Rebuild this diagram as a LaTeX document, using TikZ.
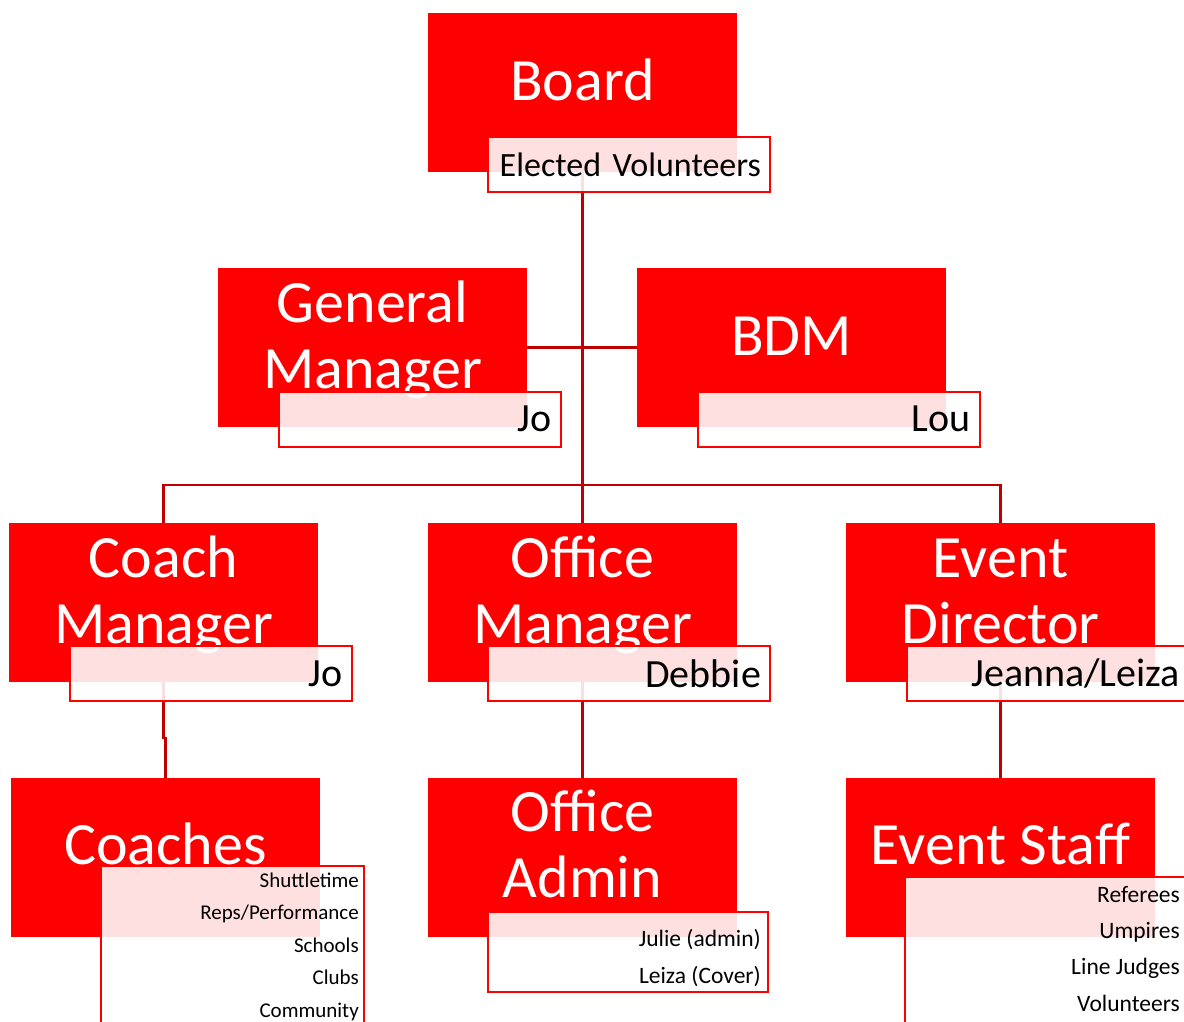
\documentclass[tikz,border=0pt]{standalone}
\usepackage{fontspec}
\setmainfont{Carlito}
\usetikzlibrary{backgrounds}
\definecolor{postred}{HTML}{FF0000}
\definecolor{linkred}{HTML}{C00000}
\tikzset{
  post/.style={fill=postred, minimum width=309pt, minimum height=159pt, inner sep=0pt},
  posttitle/.style={text=white, font=\fontsize{60}{66}\selectfont, align=center, anchor=base, inner sep=0pt},
  holder/.style={draw=postred, line width=2pt, fill=white, fill opacity=0.88, text opacity=1,
    inner xsep=9pt, inner ysep=0pt, text width=264pt, align=right, minimum height=55pt,
    font=\fontsize{40}{48}\selectfont},
  listbox/.style={draw=postred, line width=2pt, fill=white, fill opacity=0.88, inner sep=0pt},
  duty/.style={anchor=base east, inner sep=0pt, font=\fontsize{23.5}{28}\selectfont},
  link/.style={draw=linkred, line width=2.5pt},
}

\begin{document}
\begin{tikzpicture}[x=1pt,y=-1pt]
  \useasboundingbox (0,0) rectangle (1184,1021);
  % posts
  \node[post] (board) at (582.5,92.5) {};
  \node[post] (gm) at (372.5,347.5) {};
  \node[post] (bdm) at (791.5,347.5) {};
  \node[post] (cm) at (163.5,602.5) {};
  \node[post] (om) at (582.5,602.5) {};
  \node[post] (ed) at (1000.5,602.5) {};
  \node[post] (coaches) at (165.5,857.5) {};
  \node[post] (oa) at (582.5,857.5) {};
  \node[post] (es) at (1000.5,857.5) {};
  % titles (base = last line)
  \node[posttitle] (board-t) at (582.5,100) {Board};
  \node[posttitle] (gm-t) at (372.5,388) {General\\Manager};
  \node[posttitle] (bdm-t) at (791.5,355) {BDM};
  \node[posttitle] (cm-t) at (163.5,643) {Coach\\Manager};
  \node[posttitle] (om-t) at (582.5,643) {Office\\Manager};
  \node[posttitle] (ed-t) at (1000.5,643) {Event\\Director};
  \node[posttitle] (coaches-t) at (165.5,864) {Coaches};
  \node[posttitle] (oa-t) at (582.5,897) {Office\\Admin};
  \node[posttitle] (es-t) at (1000.5,864) {Event Staff};
  % connectors
  \coordinate (hub) at (582.5,485);
  \begin{scope}[on background layer]
    \draw[link] (board.south) -- (hub);
    \draw[link] (cm.north) |- (hub) -| (ed.north);
    \draw[link] (hub) -- (om.north);
    \draw[link] (gm.east) -- (bdm.west);
    \draw[link] (cm.south) -- ++(0,56) -| (coaches.north);
    \draw[link] (om.south) -- (oa.north);
    \draw[link] (ed.south) -- (es.north);
  \end{scope}
  % holders
  \node[holder, font=\fontsize{34}{40}\selectfont] (board-s) at (629,164.5) {Elected Volunteers};
  \node[holder] (gm-s) at (419.5,419) {Jo};
  \node[holder] (bdm-s) at (838.5,419) {Lou};
  \node[holder] (cm-s) at (210.5,673.5) {Jo};
  \node[holder] (om-s) at (629,673.5) {Debbie};
  \node[holder] (ed-s) at (1048,673.5) {Jeanna/Leiza};
  \node[listbox, minimum width=263pt, minimum height=174pt] (coaches-s) at (232.5,953) {};
  \node[listbox, minimum width=280pt, minimum height=80pt] (oa-s) at (628,952) {};
  \node[listbox, minimum width=284pt, minimum height=163pt] (es-s) at (1047,958.5) {};
  % duties
  \node[duty, font=\fontsize{21}{25}\selectfont] (coaches-1) at (359,887) {Shuttletime};
  \node[duty, font=\fontsize{21}{25}\selectfont] (coaches-2) at (359,919.5) {Reps/Performance};
  \node[duty, font=\fontsize{21}{25}\selectfont] (coaches-3) at (359,952) {Schools};
  \node[duty, font=\fontsize{21}{25}\selectfont] (coaches-4) at (359,984.5) {Clubs};
  \node[duty, font=\fontsize{21}{25}\selectfont] (coaches-5) at (359,1017) {Community};
  \node[duty] (oa-1) at (761,946) {Julie (admin)};
  \node[duty] (oa-2) at (761,983) {Leiza (Cover)};
  \node[duty] (es-1) at (1180,902) {Referees};
  \node[duty] (es-2) at (1180,938) {Umpires};
  \node[duty] (es-3) at (1180,974.5) {Line Judges};
  \node[duty] (es-4) at (1180,1011) {Volunteers};
\end{tikzpicture}
\end{document}
